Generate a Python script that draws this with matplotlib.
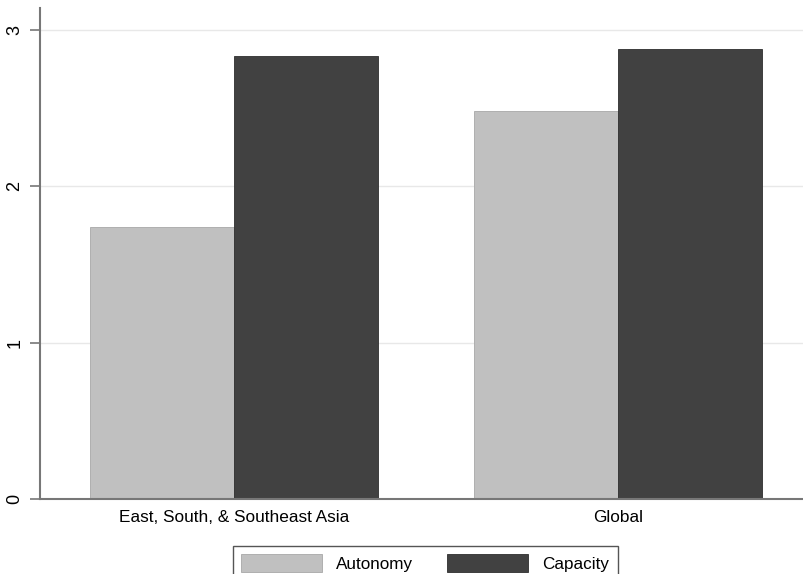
import numpy as np
import matplotlib.pyplot as plt

plt.rcParams['font.family'] = ['Liberation Sans', 'DejaVu Sans']

# data
regions = ['East, South, & Southeast Asia', 'Global']
autonomy = [1.74, 2.48]
capacity = [2.83, 2.88]
series = ['Autonomy', 'Capacity']
colors = ['#c0c0c0', '#414141']

fig = plt.figure(figsize=(8.04, 5.74), dpi=100)
ax = fig.add_axes([40 / 804, 1 - 499 / 574, 764 / 804, 491 / 574])

x = np.arange(len(regions))
w = 0.375
ax.bar(x - w / 2, autonomy, w, color=colors[0], edgecolor='#a8a8a8', linewidth=0.6,
       label=series[0], zorder=2)
ax.bar(x + w / 2, capacity, w, color=colors[1], edgecolor='#2e2e2e', linewidth=0.6,
       label=series[1], zorder=2)

ax.set_xlim(-0.505, 1.484)
ax.set_ylim(0, 3.14)
ax.set_yticks([0, 1, 2, 3])
ax.set_yticklabels(['0', '1', '2', '3'], rotation=90, va='center', fontsize=13)
ax.set_xticks(x)
ax.set_xticklabels(regions, fontsize=12.4)
ax.tick_params(axis='x', length=0, pad=8)
ax.tick_params(axis='y', length=7, width=1.2, color='#777777', pad=5)
ax.yaxis.grid(True, color='#e8e8e8', linewidth=1, zorder=0)
ax.set_axisbelow(True)

for s in ['top', 'right']:
    ax.spines[s].set_visible(False)
for s in ['left', 'bottom']:
    ax.spines[s].set_color('#777777')
    ax.spines[s].set_linewidth(1.5)

leg = fig.legend(loc='upper center', bbox_to_anchor=(0.529, 1 - 537 / 574), ncol=2,
                 fontsize=12.3, handlelength=4.74, handleheight=1.23, handletextpad=0.82,
                 columnspacing=2.0, borderpad=0.5, fancybox=False, framealpha=1)
leg.get_frame().set_edgecolor('#555555')
leg.get_frame().set_linewidth(1)

fig.savefig('out.png', dpi=100)
